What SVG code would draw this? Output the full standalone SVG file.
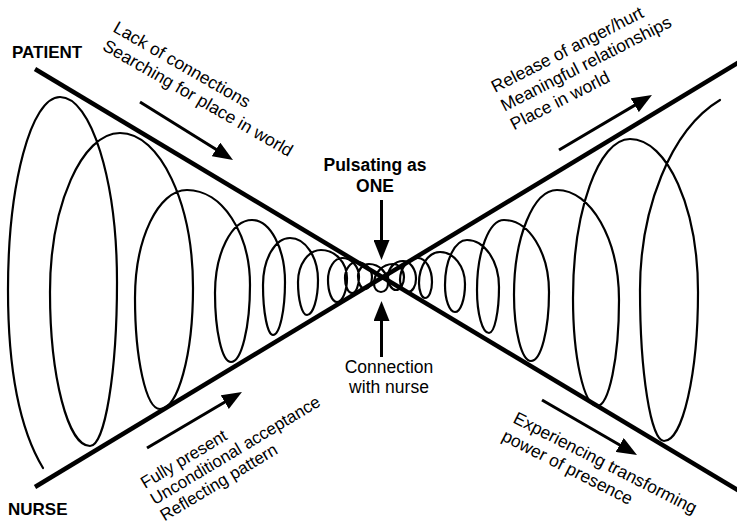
<svg xmlns="http://www.w3.org/2000/svg" width="737" height="526" viewBox="0 0 737 526">
<style>
.bg{fill:#ffffff}
.axis{stroke:#000;stroke-width:4.5;fill:none;stroke-linecap:butt}
.coil{stroke:#000;stroke-width:2.2;fill:none;stroke-linejoin:round;stroke-linecap:round}
.arr{stroke:#000;stroke-width:3;fill:none;marker-end:url(#ah)}
text{font-family:"Liberation Sans",Arial,Helvetica,sans-serif;fill:#000;font-size:17.5px}
.b{font-weight:bold}
.m{text-anchor:middle}
</style>
<defs>
<marker id="ah" viewBox="0 0 20 16" refX="14" refY="8" markerWidth="20" markerHeight="16" markerUnits="userSpaceOnUse" orient="auto">
<path d="M0,0 L20,8 L0,16 z" fill="#000"/>
</marker>
</defs>
<rect class="bg" x="0" y="0" width="737" height="526"/>
<g id="axes">
<line class="axis" x1="35" y1="69" x2="741" y2="492"/>
<line class="axis" x1="35" y1="487" x2="741" y2="61"/>
</g>
<g id="coil">
<path class="coil" d="M43,468 C20,430 8,370 8,290
C8,184 31,97 60,97 C91,97 117,180 117,282 C117,372 105,446 90,446 C68,446 50,377 50,292
C50,205 82,133 120,133 C160,133 193,203 193,288 C193,355 178,409 160,409 C146,409 135,359 135,298
C135,239 158,190 187,190 C222,190 250,233 250,285 C250,327 241.5,362 231,362 C222,362 215,331 215,293
C215,253 231.6,220 252,220 C270,220 285,248 285,282 C285,311 279.6,335 273,335 C267.5,335 263,312.5 263,285
C263,259 275,238 290,238 C305.4,238 318,257 318,280 C318,299 313,315 307,315 C302,315 298,300 298,282
C298,264.4 308.4,250 321,250 C335.3,250 347,262.6 347,278 C347,291 342.5,302 337,302 C332,302 328,292 328,280
C328,268 334.3,258 342,258 C351.4,258 359,266.5 359,277 C359,286 356,293 352,293 C348,293 345,286 345,278
C345,269 350.4,262 357,262 C365,262 372,269 372,277 C372,283.6 369,289 365,289 C361,289 358,283 358,276
C358,269.4 363,264 369,264 C379.5,264 388,273 388,284 C388,288.4 385,292 381,292 C377,292 374,288.4 374,284
C374,273 382.5,264 393,264 C399,264 404,270 404,277 C404,284 400.4,290 396,290 C391.6,290 388,284 388,277
C388,268 394.8,261 403,261 C410,261 416,269 416,279 C416,286 412.4,292 408,292 C403.6,292 400,286.6 400,280
C400,268 408,258 418,258 C425.7,258 432,269 432,282 C432,291 429,298 425,298 C421.7,298 419,291 419,283
C419,266 428.5,252 440,252 C453.8,252 465,266.4 465,284 C465,299.4 460.5,312 455,312 C449.5,312 445,300 445,285
C445,260 455,240 467,240 C484.6,240 499,261 499,287 C499,312 494.5,333 489,333 C482.4,333 477,314 477,290
C477,251.5 489,220 504,220 C528.8,220 549,252 549,292 C549,330 541,361 531,361 C521.7,361 514,331 514,295
C514,237 533.4,190 557,190 C591,190 619,239.5 619,300 C619,358 609,406 597,406 C583.8,406 573,357 573,298
C573,210.6 598.7,139 630,139 C667.4,139 698,208 698,292 C698,374 682.7,441 664,441 C650.8,441 640,373 640,290
C640,210 670,130 720,100"/>
</g>
<g id="connectors">
<line class="arr" x1="140" y1="102" x2="227.9" y2="156.8"/>
<line class="arr" x1="559" y1="150" x2="646.8" y2="98.1"/>
<line class="arr" x1="147" y1="448" x2="236.8" y2="395"/>
<line class="arr" x1="542" y1="400" x2="631.8" y2="452"/>
<line class="arr" x1="381.5" y1="200" x2="381.5" y2="254"/>
<line class="arr" x1="381.5" y1="357" x2="381.5" y2="307"/>
</g>
<g id="patient"><text class="b" x="12" y="58" style="font-size:17px">PATIENT</text></g>
<g id="nurse"><text class="b" x="8" y="515" style="font-size:17px">NURSE</text></g>
<g id="pulsating">
<text class="b m" x="375" y="171">Pulsating as</text>
<text class="b m" x="375" y="192">ONE</text>
</g>
<g id="connection">
<text class="m" x="389" y="373">Connection</text>
<text class="m" x="389" y="393">with nurse</text>
</g>
<g id="patient-before">
<text transform="translate(112,31) rotate(30)"><tspan x="0" y="0">Lack of connections</tspan><tspan x="0" y="21">Searching for place in world</tspan></text>
</g>
<g id="patient-after">
<text transform="translate(495,93) rotate(-27)"><tspan x="0" y="0">Release of anger/hurt</tspan><tspan x="0" y="21">Meaningful relationships</tspan><tspan x="0" y="42">Place in world</tspan></text>
</g>
<g id="nurse-before">
<text transform="translate(145,489) rotate(-31)" style="font-size:17px"><tspan x="0" y="0">Fully present</tspan><tspan x="0" y="19">Unconditional acceptance</tspan><tspan x="0" y="38">Reflecting pattern</tspan></text>
</g>
<g id="nurse-after">
<text transform="translate(512,422) rotate(27)"><tspan x="0" y="0">Experiencing transforming</tspan><tspan x="-2" y="21">power of presence</tspan></text>
</g>
</svg>
